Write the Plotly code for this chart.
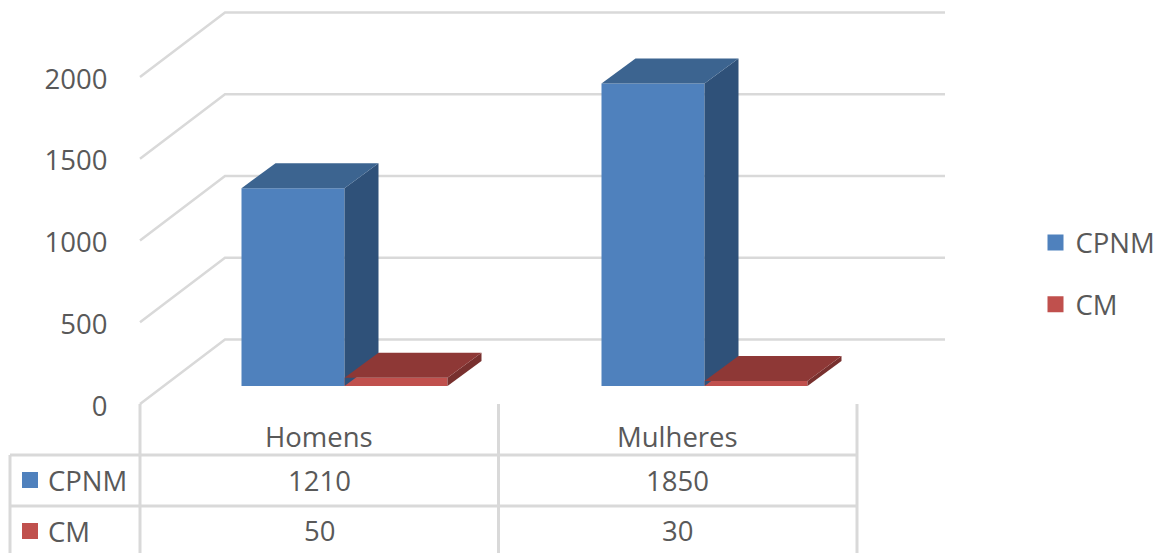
import plotly.graph_objects as go

categories = ["Homens", "Mulheres"]
cpnm_values = [1210, 1850]
cm_values = [50, 30]
axis_ticks = [0, 500, 1000, 1500, 2000]
series_names = ["CPNM", "CM"]

W, H = 1162, 553
ML = 140
PX_X = 358.5          # pixels per category
PX_Y = 0.1635         # pixels per value unit
Y0 = 404              # pixel row of value 0


def dx(px):
    return px / PX_X


def dy(px):
    return px / PX_Y


FONT = "Open Sans"
FS = 27.5
TXT = "#595959"
GRID = "#D9D9D9"
BLUE, BLUE_TOP, BLUE_SIDE = "#4F81BD", "#3C6490", "#2F5179"
RED, RED_TOP, RED_SIDE = "#C0504D", "#8E3836", "#78302E"

x_range = [dx(-ML), dx(W - ML)]
y_range = [dy(Y0 - H), dy(Y0)]

bar_w = dx(103)
centers_a = [dx(293 - ML), dx(653 - ML)]
centers_b = [dx(396 - ML), dx(756 - ML)]
base = dy(18)
depth_x, depth_y = dx(34), dy(25)
wall_x, wall_y = dx(85), dy(64.5)
wall_end = dx(945 - ML)

fig = go.Figure()


def add_series(name, vals, centers, front):
    fig.add_trace(go.Bar(x=centers, y=vals, base=[base] * len(vals), width=bar_w,
                         marker=dict(color=front, line=dict(width=0)),
                         name=name, showlegend=False, hoverinfo="skip"))


def add_faces(vals, centers, top, side):
    for c, v in zip(centers, vals):
        l, r = c - bar_w / 2, c + bar_w / 2
        b, t = base, base + v
        fig.add_trace(go.Scatter(
            x=[r, r + depth_x, r + depth_x, r, r],
            y=[b, b + depth_y, t + depth_y, t, b],
            mode="lines", fill="toself", fillcolor=side, line=dict(width=0),
            showlegend=False, hoverinfo="skip"))
        fig.add_trace(go.Scatter(
            x=[l, l + depth_x, r + depth_x, r, l],
            y=[t, t + depth_y, t + depth_y, t, t],
            mode="lines", fill="toself", fillcolor=top, line=dict(width=0),
            showlegend=False, hoverinfo="skip"))


add_series(series_names[0], cpnm_values, centers_a, BLUE)
add_series(series_names[1], cm_values, centers_b, RED)
add_faces(cpnm_values, centers_a, BLUE_TOP, BLUE_SIDE)
add_faces(cm_values, centers_b, RED_TOP, RED_SIDE)

# legend entries
for i, (name, col) in enumerate(zip(series_names, [BLUE, RED])):
    fig.add_trace(go.Scatter(x=[None], y=[None], mode="markers", name=name,
                             legendgroup=name,
                             marker=dict(symbol="square", size=16, color=col)))

# swatches in the data table
row_y = [dy(Y0 - 480), dy(Y0 - 531)]
fig.add_trace(go.Scatter(x=[dx(30 - ML)] * 2, y=row_y, mode="markers",
                         marker=dict(symbol="square", size=16, color=[BLUE, RED]),
                         showlegend=False, hoverinfo="skip"))

shapes = []


def line_shape(x0, y0, x1, y1, width=2.5):
    shapes.append(dict(type="line", xref="x", yref="y", x0=x0, y0=y0, x1=x1, y1=y1,
                       layer="below", line=dict(color=GRID, width=width)))


# wall and side-wall gridlines
for v in axis_ticks:
    shapes.append(dict(type="path", xref="x", yref="y", layer="below",
                       path=f"M 0 {v} L {wall_x} {v + wall_y} L {wall_end} {v + wall_y}",
                       line=dict(color=GRID, width=2.5)))

# data table grid
tbl_l = dx(10 - ML)
tbl_r = len(categories)
y_hdr = dy(Y0 - 455)
y_row = dy(Y0 - 506)
line_shape(tbl_l, y_hdr, tbl_r, y_hdr, 3)
line_shape(tbl_l, y_row, tbl_r, y_row, 3)
line_shape(tbl_l, y_hdr, tbl_l, y_range[0], 3)
for i in range(len(categories) + 1):
    line_shape(i, 0, i, y_range[0], 3)

annotations = []


def label(x, y, text, anchor="center"):
    annotations.append(dict(xref="x", yref="y", x=x, y=y, text=text, showarrow=False,
                            xanchor=anchor, yanchor="middle",
                            font=dict(family=FONT, size=FS, color=TXT)))


hdr_y = dy(Y0 - 436)
for i, c in enumerate(categories):
    label(i + 0.5, hdr_y, c)
    label(i + 0.5, row_y[0], str(cpnm_values[i]))
    label(i + 0.5, dy(Y0 - 530), str(cm_values[i]))
for name, y in zip(series_names, row_y):
    label(dx(46 - ML), y, name, "left")

fig.update_layout(
    width=W, height=H, autosize=False,
    margin=dict(l=0, r=0, t=0, b=0),
    paper_bgcolor="white", plot_bgcolor="white",
    barmode="overlay",
    font=dict(family=FONT, size=FS, color=TXT),
    xaxis=dict(range=x_range, showgrid=False, zeroline=False, showticklabels=False,
               ticks="", showline=False, fixedrange=True),
    yaxis=dict(range=y_range, tickvals=axis_ticks, showgrid=False, zeroline=False,
               anchor="free", position=ML / W, ticklabelshift=2,
               showline=False, ticks="outside", ticklen=27, tickcolor="rgba(0,0,0,0)",
               tickfont=dict(family=FONT, size=FS, color=TXT), fixedrange=True),
    legend=dict(x=1035.5 / W, y=1 - 218 / H, xanchor="left", yanchor="top",
                traceorder="grouped", tracegroupgap=23, itemwidth=30,
                bgcolor="rgba(0,0,0,0)", font=dict(family=FONT, size=FS, color=TXT)),
    shapes=shapes, annotations=annotations,
)

fig.write_html("out.html", config=dict(displayModeBar=False),
               post_script="document.body.style.margin='0';")
